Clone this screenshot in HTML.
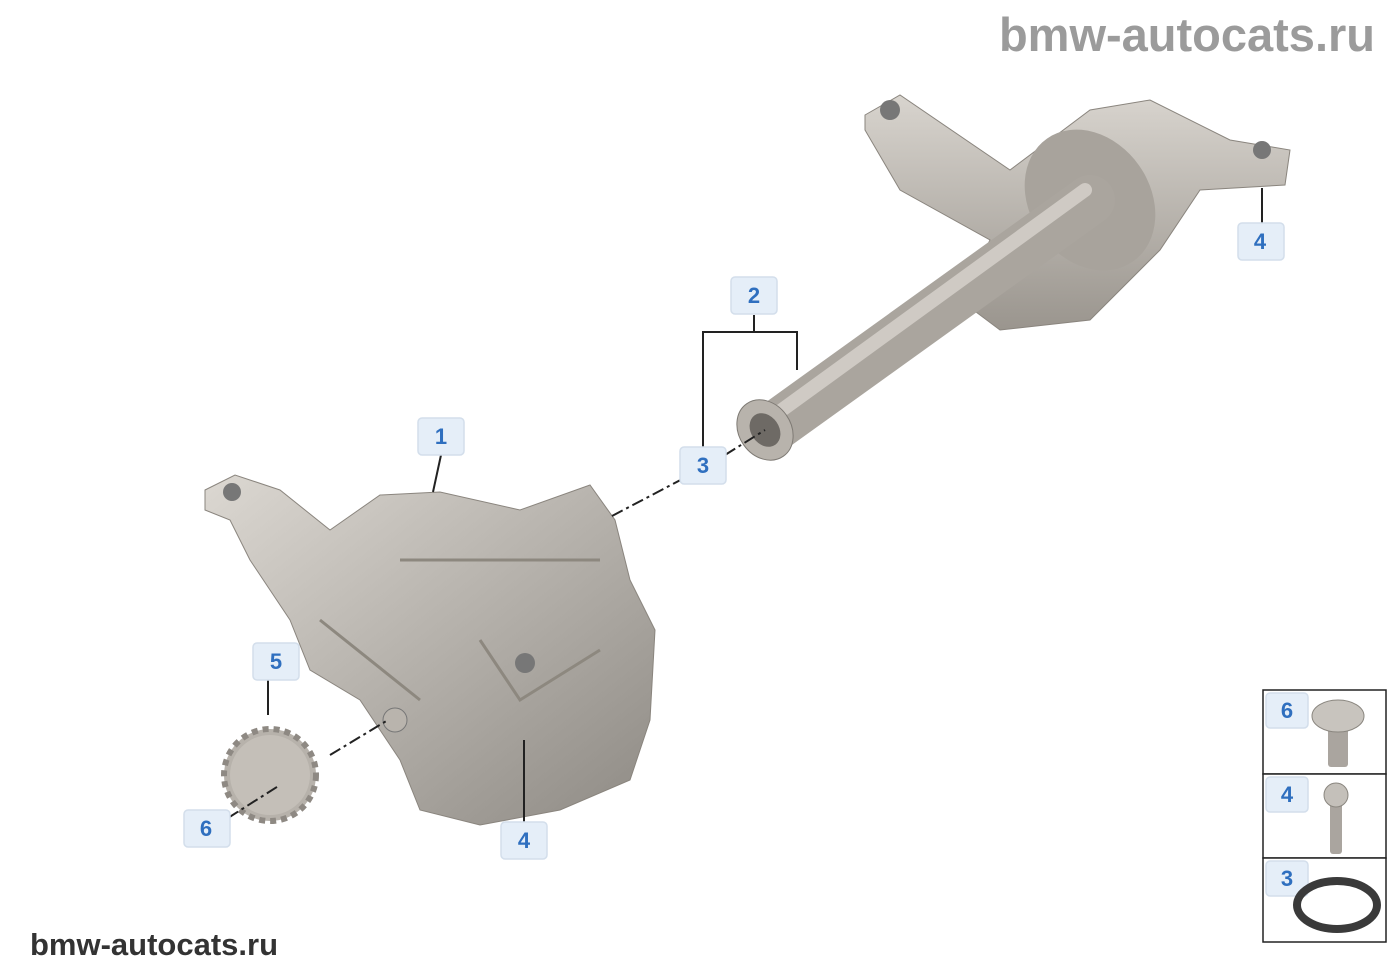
<!DOCTYPE html>
<html><head><style>
html,body{margin:0;padding:0;background:#fff;}
svg{display:block;}
.lb rect{fill:#e5eef8;stroke:#d3deeb;stroke-width:1.5;}
.lb text{font-family:"Liberation Sans",sans-serif;font-weight:bold;font-size:22px;fill:#2f6fbf;text-anchor:middle;}
</style></head><body>
<svg width="1400" height="980" viewBox="0 0 1400 980" xmlns="http://www.w3.org/2000/svg">
<defs>
<linearGradient id="g1" x1="0" y1="0" x2="1" y2="1"><stop offset="0" stop-color="#dcd8d2"/><stop offset="1" stop-color="#8e8a84"/></linearGradient>
<linearGradient id="g2" x1="0" y1="0" x2="0" y2="1"><stop offset="0" stop-color="#d8d4ce"/><stop offset="1" stop-color="#9a958e"/></linearGradient>
</defs>
<text x="1375" y="51" text-anchor="end" font-family="Liberation Sans,sans-serif" font-weight="bold" font-size="47" fill="#9b9b9b">bmw-autocats.ru</text>
<text x="30" y="955" font-family="Liberation Sans,sans-serif" font-weight="bold" font-size="31" fill="#333">bmw-autocats.ru</text>

<path d="M865 115 L900 95 L1010 170 L1090 110 L1150 100 L1230 140 L1290 150 L1285 185 L1200 190 L1160 250 L1090 320 L1000 330 L960 300 L990 240 L900 190 L865 130 Z" fill="url(#g2)" stroke="#8a857e"/>
<ellipse cx="1090" cy="200" rx="60" ry="75" transform="rotate(-35 1090 200)" fill="#a8a39c"/>
<line x1="770" y1="430" x2="1090" y2="200" stroke="#aaa59e" stroke-width="50" stroke-linecap="round"/>
<line x1="775" y1="415" x2="1085" y2="190" stroke="#cfcac4" stroke-width="14" stroke-linecap="round"/>
<ellipse cx="765" cy="430" rx="26" ry="32" transform="rotate(-35 765 430)" fill="#b8b3ac" stroke="#7e7a74"/>
<ellipse cx="765" cy="430" rx="14" ry="18" transform="rotate(-35 765 430)" fill="#6e6a65"/>
<circle cx="890" cy="110" r="10" fill="#777"/>
<circle cx="1262" cy="150" r="9" fill="#777"/>

<path d="M205 490 L235 475 L280 490 L330 530 L380 495 L440 492 L520 510 L590 485 L615 520 L630 580 L655 630 L650 720 L630 780 L560 810 L480 825 L420 810 L400 760 L360 700 L310 670 L290 620 L250 560 L230 520 L205 510 Z" fill="url(#g1)" stroke="#8a857e"/>
<circle cx="232" cy="492" r="9" fill="#777"/>
<circle cx="525" cy="663" r="10" fill="#777"/>
<circle cx="395" cy="720" r="12" fill="#b9b4ad" stroke="#777"/>
<path d="M480 640 L520 700 L600 650 M320 620 L420 700 M400 560 L600 560" stroke="#8d887f" stroke-width="3" fill="none"/>

<circle cx="270" cy="775" r="46" fill="#b7b2ab" stroke="#8e8983" stroke-width="6" stroke-dasharray="6 5"/>
<circle cx="270" cy="775" r="40" fill="#c4bfb8"/>

<g stroke="#222" stroke-width="2" fill="none">
<line x1="441" y1="455" x2="433" y2="492"/>
<polyline points="754,315 754,332 703,332 703,448"/><polyline points="754,332 797,332 797,370"/>
<line x1="1262" y1="188" x2="1262" y2="223"/>
<line x1="268" y1="680" x2="268" y2="715"/>
<line x1="524" y1="740" x2="524" y2="822"/>
<g stroke-dasharray="12 4 3 4"><line x1="612" y1="516" x2="690" y2="475"/><line x1="725" y1="455" x2="765" y2="430"/><line x1="330" y1="755" x2="388" y2="720"/><line x1="228" y1="818" x2="280" y2="785"/></g>
</g>

<g class="lb">
<rect x="418" y="418" width="46" height="37" rx="4"/><text x="441" y="444">1</text>
<rect x="731" y="277" width="46" height="37" rx="4"/><text x="754" y="303">2</text>
<rect x="680" y="447" width="46" height="37" rx="4"/><text x="703" y="473">3</text>
<rect x="1238" y="223" width="46" height="37" rx="4"/><text x="1260" y="249">4</text>
<rect x="253" y="643" width="46" height="37" rx="4"/><text x="276" y="669">5</text>
<rect x="184" y="810" width="46" height="37" rx="4"/><text x="206" y="836">6</text>
<rect x="501" y="822" width="46" height="37" rx="4"/><text x="524" y="848">4</text>
</g>

<g fill="#fff" stroke="#222" stroke-width="1.5">
<rect x="1263" y="690" width="123" height="84"/><rect x="1263" y="774" width="123" height="84"/><rect x="1263" y="858" width="123" height="84"/>
</g>
<g class="lb">
<rect x="1266" y="693" width="42" height="35" rx="4"/><text x="1287" y="718">6</text>
<rect x="1266" y="777" width="42" height="35" rx="4"/><text x="1287" y="802">4</text>
<rect x="1266" y="861" width="42" height="35" rx="4"/><text x="1287" y="886">3</text>
</g>
<rect x="1328" y="725" width="20" height="42" rx="3" fill="#aaa59f"/>
<ellipse cx="1338" cy="716" rx="26" ry="16" fill="#c8c4be" stroke="#8a867f"/>
<rect x="1330" y="800" width="12" height="54" rx="3" fill="#aaa59f"/>
<ellipse cx="1336" cy="795" rx="12" ry="12" fill="#c4c0ba" stroke="#8a867f"/>
<ellipse cx="1337" cy="905" rx="40" ry="24" fill="none" stroke="#3a3a3a" stroke-width="8"/>
</svg>
</body></html>
